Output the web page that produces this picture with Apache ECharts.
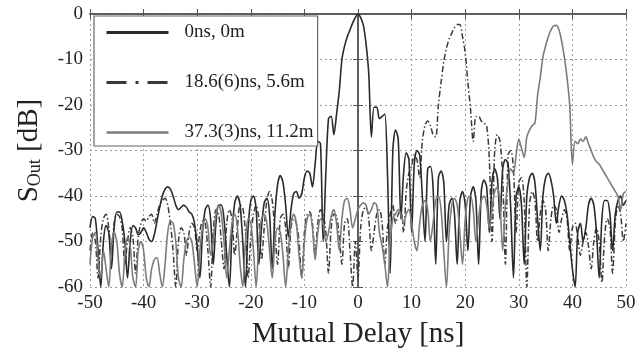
<!DOCTYPE html>
<html><head><meta charset="utf-8">
<script src="https://cdn.jsdelivr.net/npm/echarts@6/dist/echarts.min.js"></script>
<style>html,body{margin:0;padding:0;background:#fff}#c{width:643px;height:358px}</style>
</head><body><div id="c"></div>
<script>
// Delay grid (ns): -50 .. 50 in 0.5 ns steps
const delayStart = -50, delayStep = 0.5;
const xTicks = [-50,-40,-30,-20,-10,0,10,20,30,40,50];
const yTicks = [-60,-50,-40,-30,-20,-10,0];
const seriesNames = ['0ns, 0m', '18.6(6)ns, 5.6m', '37.3(3)ns, 11.2m'];

const s0ns = [
 -47,-44.5,-45,-52,-60,-50,-46.5,-48,-56,-47,-43.5,-43.5,-45.5,-50,-58,-50,-46.5,-47,-48.5,-48,
 -47,-48,-49.5,-50,-48.5,-45.5,-42.5,-40,-38.5,-38,-38.5,-40,-42,-43,-42.5,-42,-42.5,-43.5,-44,-46,
 -51,-58,-48,-43,-42,-45,-55,-46,-42,-42,-45,-53,-60,-48,-41.5,-40,-42,-50,-60,-47,
 -41,-40,-43,-55,-47,-41.5,-40.5,-44,-56,-44,-37.5,-35.5,-37,-42,-49,-43,-39.5,-39,-40.5,-39.5,
 -36,-34.5,-35,-38,-33,-28,-28.5,-50,-35,-23,-22.5,-26.5,-22,-17,-10,-7,-5,-3.5,-2,-0.8,
 0,-0.8,-2.5,-6.5,-13,-27,-20.5,-20.5,-23,-22.5,-22,-35,-57,-30,-25.5,-27.5,-45,-35,-30.5,-32,
 -48,-33,-30,-31,-40,-50,-34,-33.5,-38,-55,-36,-34.5,-37,-50,-42,-40.5,-44,-55,-41,-39,
 -42,-52,-40,-38,-41,-55,-39,-36.5,-38,-48,-37,-34,-36,-45,-34,-32,-33,-43,-58,-40,
 -38,-42,-55,-40,-36,-35,-37,-45,-52,-40,-36,-35,-36.5,-40,-46,-42,-40,-41,-44,-50,
 -56,-60,-48,-46,-50,-47,-42,-40.5,-42,-48,-58,-45,-41,-41,-44,-52,-44,-41,-40,-42,-41
];
const s18ns = [
 -52,-48,-50,-58,-49,-45,-44,-47,-53,-46,-44,-44.5,-47,-55,-50,-47,-49,-57,-49,-46,
 -45,-45.5,-44.5,-44,-46,-44,-42,-41,-40.5,-42,-46,-52,-60,-50,-47,-48,-53,-48,-46,-47,
 -52,-48,-45.5,-46,-52,-60,-48,-43,-44,-50,-56,-46,-43,-45,-53,-47,-42,-42.5,-48,-58,
 -49,-44,-42,-45,-54,-47,-41,-39,-41,-48,-55,-45,-44,-47,-56,-47,-45,-46,-50,-58,
 -48,-44,-43.5,-46,-53,-46,-43,-44,-48,-57,-47,-44,-44.5,-49,-55,-46,-45,-52,-60,-50,
 -58,-47,-43,-42.5,-45,-52,-48,-44,-43,-46,-55,-47,-44,-42,-46,-44,-43,-48,-39,-35,
 -33.5,-31,-32,-36,-28,-24.5,-23.5,-24.5,-26.5,-27,-20,-15,-10.5,-7.5,-5.5,-4.2,-3,-2.3,-2.3,-5,
 -8.5,-15,-21,-28,-22.5,-22.5,-23.5,-24,-24.5,-32,-50,-30,-26.5,-28,-36,-55,-31,-30,-34,-48,
 -37,-36,-41,-60,-42,-39,-41,-50,-44,-41,-43,-52,-45,-42,-43,-48,-45,-43,-45,-52,
 -47,-46,-49,-53,-50,-48,-51,-56,-50,-47,-50,-59,-49,-45,-47,-57,-46,-42,-44,-50,-46
];
const s37ns = [
 -55,-49,-48,-54,-58,-52,-56,-60,-51,-48,-50,-57,-60,-53,-49,-51,-58,-60,-52,-50,
 -52,-58,-60,-56,-54,-53.5,-57,-60,-55,-48,-45.5,-46,-50,-58,-60,-54,-50,-49,-50,-55,
 -60,-52,-47,-45,-47,-53,-50,-44,-42,-44,-50,-58,-52,-46,-44,-47,-55,-60,-50,-45,
 -46,-52,-60,-50,-45,-44,-46,-52,-58,-50,-47,-48,-53,-60,-52,-46,-44,-46,-53,-58,
 -50,-45,-44,-47,-54,-48,-45,-46,-50,-48,-44.5,-43,-46,-52,-45,-41,-40.5,-43,-47,-45,
 -43,-42,-41.5,-42,-44,-43,-41.5,-42,-48,-51,-55,-60,-50,-45,-44,-43,-44,-46,-44,-43,
 -46,-50,-52,-46,-42,-41,-43,-50,-46,-41,-40,-43,-52,-60,-48,-42,-40.5,-42,-48,-55,
 -45,-40.5,-40,-43,-50,-45,-41,-40,-42,-47,-43,-39,-38,-42,-52,-42,-37,-34,-35,-31,
 -27.5,-29.5,-31.5,-27,-25.5,-24.5,-24,-18,-14,-9.5,-7,-5,-3.5,-2.6,-2.5,-3.5,-6,-9.5,-14,-20,
 -33,-28,-28.5,-27.5,-28,-27,-28.5,-30,-31.5,-32.5,-33,-34,-35,-36,-37,-38,-39,-40,-43,-39.5,-39
];

function pairs(vals){ return vals.map((v,i)=>[delayStart + i*delayStep, v]); }

const serif = "'Liberation Serif','DejaVu Serif',serif";
const chart = echarts.init(document.getElementById('c'), null, {renderer:'canvas'});
const axisLineStyle = {color:'#555', width:1.5};
const splitDotted = {show:true, lineStyle:{color:'#9a9a9a', type:[2,3], width:1}};
chart.setOption({
  animation:false,
  backgroundColor:'#fff',
  grid:{left:90, right:17, top:14, bottom:71, containLabel:false},
  legend:{
    orient:'vertical', left:94, top:16,
    itemWidth:62, itemHeight:14, itemGap:31,
    padding:[7,4,4,11],
    borderColor:'#666', borderWidth:1.2, backgroundColor:'#fff',
    itemStyle:{opacity:0},
    textStyle:{fontFamily:serif, fontSize:19, color:'#222', padding:[0,0,0,11]},
    data:[
      {name:seriesNames[0], lineStyle:{width:3}},
      {name:seriesNames[1], lineStyle:{width:3, type:[20,9,3,9]}},
      {name:seriesNames[2], lineStyle:{width:2.5}}
    ]
  },
  xAxis:[{
    type:'value', min:-50, max:50, interval:10, position:'bottom',
    axisLine:{lineStyle:axisLineStyle},
    axisTick:{inside:true, length:5, lineStyle:{color:'#555'}},
    axisLabel:{fontFamily:serif, fontSize:19, color:'#222', margin:7},
    splitLine:splitDotted,
    name:'Mutual Delay [ns]', nameLocation:'middle', nameGap:33,
    nameTextStyle:{fontFamily:serif, fontSize:29, color:'#222'}
  },{
    type:'value', min:-50, max:50, interval:10, position:'top',
    axisLine:{lineStyle:axisLineStyle},
    axisTick:{inside:true, length:5, lineStyle:{color:'#555'}},
    axisLabel:{show:false}, splitLine:{show:false}
  }],
  yAxis:[{
    type:'value', min:-60, max:0, interval:10, position:'left',
    axisLine:{lineStyle:axisLineStyle},
    axisTick:{inside:true, length:5, lineStyle:{color:'#555'}},
    axisLabel:{fontFamily:serif, fontSize:19, color:'#222', margin:7},
    splitLine:splitDotted,
    name:'{s|S}{sub|Out}{s| [dB]}', nameLocation:'middle', nameGap:46, nameRotate:90,
    nameTextStyle:{color:'#222', rich:{
      s:{fontFamily:serif, fontSize:29, color:'#222', lineHeight:30},
      sub:{fontFamily:serif, fontSize:18, color:'#222', verticalAlign:'bottom', lineHeight:22}
    }}
  },{
    type:'value', min:-60, max:0, interval:10, position:'right',
    axisLine:{lineStyle:axisLineStyle},
    axisTick:{inside:true, length:5, lineStyle:{color:'#555'}},
    axisLabel:{show:false}, splitLine:{show:false}
  }],
  series:[
    {name:seriesNames[0], type:'line', data:pairs(s0ns), showSymbol:false, symbol:'none', smooth:0.3,
     lineStyle:{color:'#2a2a2a', width:1.6}, itemStyle:{color:'#2a2a2a'}, z:3},
    {name:seriesNames[1], type:'line', data:pairs(s18ns), showSymbol:false, symbol:'none', smooth:0.3,
     lineStyle:{color:'#3a3a3a', width:1.5, type:[6,2.5,1.5,2.5]}, itemStyle:{color:'#3a3a3a'}, z:2},
    {name:seriesNames[2], type:'line', data:pairs(s37ns), showSymbol:false, symbol:'none', smooth:0.3,
     lineStyle:{color:'#7c7c7c', width:1.6}, itemStyle:{color:'#7c7c7c'}, z:4}
  ]
});
</script></body></html>
